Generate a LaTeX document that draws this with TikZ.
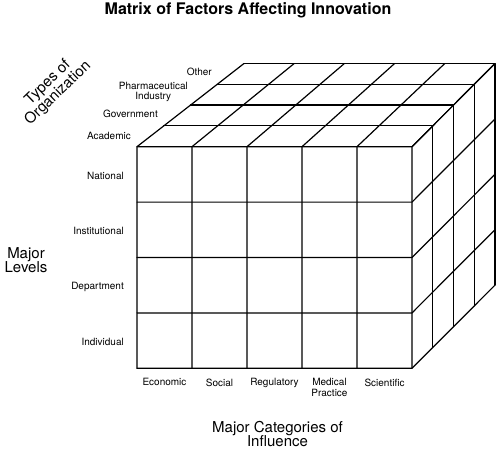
\documentclass[tikz,border=0pt]{standalone}
\usepackage{fontspec}
\setmainfont{TeX Gyre Heros}
\usetikzlibrary{positioning,calc}
\tikzset{
  gridline/.style={line width=1.2pt,line cap=round,line join=round},
  lab/.style={font=\fontsize{10}{10.5}\selectfont,inner sep=0pt,align=center},
  axislab/.style={font=\fontsize{15}{14.5}\selectfont,inner sep=0pt,align=center},
}

\begin{document}
\begin{tikzpicture}[x=1pt,y=-1pt]
  \useasboundingbox (0,0) rectangle (500,449);
  % cube corners: column i, row j, layer k
  \foreach \i in {0,...,5}
    \foreach \j in {0,...,4}
      \foreach \k in {0,...,4}
        \coordinate (c\i\j\k) at ({137+55*\i+\k*(26.75-1.2*\i)},{146.7+55.4*\j-20.8*\k});
  \foreach \i in {0,...,5} \draw[gridline] (c\i00) -- (c\i40) (c\i00) -- (c\i04);
  \foreach \j in {0,...,4} \draw[gridline] (c0\j0) -- (c5\j0) (c5\j0) -- (c5\j4);
  \foreach \k in {1,...,4} \draw[gridline] (c00\k) -- (c50\k) -- (c54\k);

  \node[font=\fontsize{16}{18}\selectfont\bfseries] (title) at (248,10) {Matrix of Factors Affecting Innovation};

  \foreach \lbl [count=\j from 0] in {National,Institutional,Department,Individual}
    \node[lab,anchor=east] (lvl\j) at (124,{176+55.4*\j}) {\lbl};
  \foreach \lbl [count=\i from 0] in {Economic,Social,Regulatory,{Medical\\Practice},Scientific}
    \node[lab,anchor=north] (cat\i) at ({164.5+55*\i},378.5) {\lbl};

  \node[lab,anchor=east] (org0) at (131,136) {Academic};
  \node[lab,anchor=east] (org1) at (158,114) {Government};
  \node[lab,anchor=east] (org2) at (188,92) {Pharmaceutical\\Industry};
  \node[lab,anchor=east] (org3) at (212,71.7) {Other};

  \node[axislab,rotate=44] (orgtype) at (53,88) {Types of\\Organization};
  \node[axislab] (levels) at (26,260) {Major\\Levels};
  \node[axislab] (categories) at (277.5,434) {Major Categories of\\Influence};
\end{tikzpicture}
\end{document}
